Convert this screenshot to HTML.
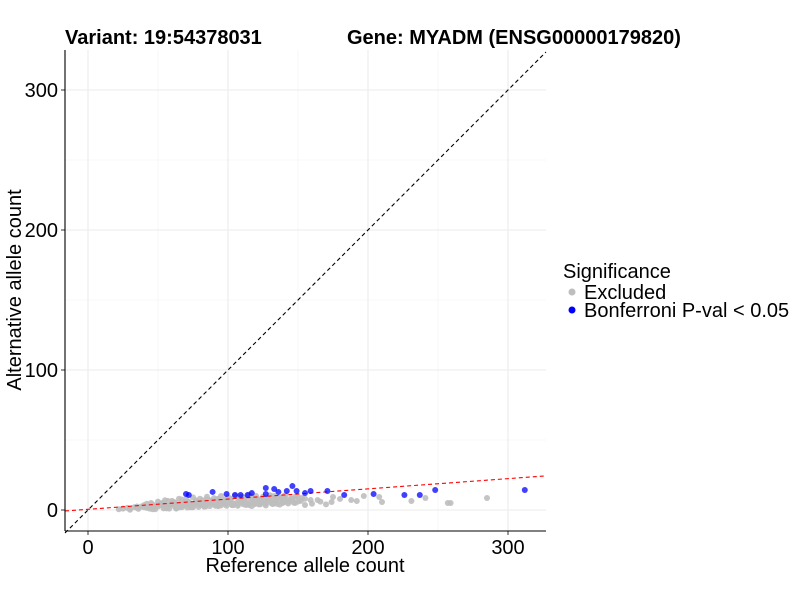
<!DOCTYPE html>
<html><head><meta charset="utf-8"><style>
body{margin:0;background:#fff;}
svg{display:block;font-family:"Liberation Sans",sans-serif;}
</style></head><body>
<svg id="chart" width="800" height="600">
<g id="grid"></g>
<g id="lines"></g>
<g id="pts"></g>
<g id="axes"></g>
<text x="65" y="44" font-size="20" font-weight="bold">Variant: 19:54378031</text>
<text x="347" y="44" font-size="20" font-weight="bold">Gene: MYADM (ENSG00000179820)</text>
<text x="305" y="572" font-size="20" text-anchor="middle">Reference allele count</text>
<text transform="translate(21,290) rotate(-90)" font-size="20" text-anchor="middle">Alternative allele count</text>
<g>
<text x="563" y="278" font-size="20">Significance</text>
<circle cx="572" cy="292" r="3.5" fill="#bebebe"/>
<text x="584" y="299" font-size="20">Excluded</text>
<circle cx="572" cy="310" r="3.5" fill="#0000ff"/>
<text x="584" y="317" font-size="20">Bonferroni P-val &lt; 0.05</text>
</g>
</svg>
<script>
const xTicks=[0,100,200,300];
const yTicks=[0,100,200,300];
const minorTicks=[50,150,250];
const regSlope=0.073, regIntercept=0.5;
const blueX=[70,72,89,99,105,109,114,117,127,127,133,136,142,146,149,155,159,171,183,204,226,237,248,312];
const blueY=[11.4,10.7,12.9,11.4,10.7,10.7,10.7,12.1,15.7,11.4,15,12.9,13.6,17.1,13.6,12.1,13.6,13.6,10.7,11.4,10.7,10.7,14.3,14.3];
const greyX=[22,25,28,30,33,35,38,40,42,45,47,50,52,55,57,60,62,64,66,68,70,72,74,76,78,80,82,84,86,88,90,92,94,96,98,100,102,104,106,108,110,112,114,116,118,120,122,124,126,128,130,132,134,136,138,140,142,144,146,148,150,
 30,36,44,48,54,58,63,67,71,75,79,83,87,91,95,99,103,107,111,115,119,123,127,131,135,139,143,147,
 40,46,53,61,69,77,85,93,101,109,117,125,133,141,46,56,65,74,84,93,104,113,122,132,
 153,155,159,164,174,175,180,188,192,197,208,210,231,241,257,259,285,160,166,170,
 45,50,55,60,65,70,75,80,85,90,95,100,105,110,115,120,125,130,135,140,145,150,155,
 48,58,68,78,88,98,108,118,128,138,148,63,73,83,93,103,113,123,133,143,
 52,62,72,82,92,102,112,122,132,142,152,35,42,57,67,77,87,97,107,117,127,137];
const greyY=[0.5,1,1.5,1,2,1.5,2.5,2,1.5,3,2,2.5,3.5,2,3,4,2.5,3,4.5,3,3.5,5,3,4,4.5,3.5,5,4,6,4.5,5,3.5,6,5,4,5.5,6.5,4.5,5,7,5.5,6,4.5,7,6,5,7.5,6,5.5,8,6.5,5,7,6,8.5,5.5,7,6.5,8,5,6,
 0.2,0.8,1,0.5,1.2,1,1.5,2,1.8,2,2.2,2.5,2.8,3,3.2,3,3.5,3.8,4,3.6,4.2,4,4.5,4.8,4.4,5,4.6,5.2,
 3.5,4,5,5.5,6,7,7.5,8,8.5,9,9.5,9,10,10.5,0.5,1.2,1.8,2,2.5,2.8,3.5,3.6,4,4.2,
 8.6,3.6,7.1,7.1,5.7,9.3,7.9,7.1,6.4,10,9.3,5.7,6.4,8.6,5,5,8.6,4.5,6,4,
 5,6,7,6.5,8,7.5,9,8,9.5,8.5,10,9,10.5,9.5,11,10,9.5,10.5,9,10,8.5,9.5,8,
 2.5,3.5,4.5,5.5,6.5,7.5,8.5,8,8.5,9,9.5,1,2,2.5,3,3.5,4,4.5,5,6,
 4.5,5.5,6,7,7.5,8,8.5,7.5,8,7,6.5,2.5,4.5,6.5,7.5,6,7,6,3,2.8,3.2,3.8];
const NS='http://www.w3.org/2000/svg';
const X0=65,X1=546,Y0=50,Y1=531;
const sx=v=>88+1.4*v, sy=v=>510-1.4*v;
function mk(p,t,a){const e=document.createElementNS(NS,t);for(const k in a)e.setAttribute(k,a[k]);document.getElementById(p).appendChild(e);return e;}
minorTicks.forEach(t=>{
 let e=mk('grid','line',{x1:sx(t),x2:sx(t),y1:Y0,y2:Y1,stroke:'#f2f2f2','stroke-width':0.6});
 
 
 e=mk('grid','line',{x1:X0,x2:X1,y1:sy(t),y2:sy(t),stroke:'#f2f2f2','stroke-width':0.6});
 
 
});
xTicks.forEach(t=>{
 let e=mk('grid','line',{x1:sx(t),x2:sx(t),y1:Y0,y2:Y1,stroke:'#ebebeb','stroke-width':1.1});
 
 
 e=mk('axes','line',{x1:sx(t),x2:sx(t),y1:Y1,y2:Y1+4,stroke:'#333'});
 
 
 e=mk('axes','text',{x:sx(t),y:Y1+23,'font-size':20,'text-anchor':'middle',fill:'#000'});e.textContent=t;
 
 
});
yTicks.forEach(t=>{
 let e=mk('grid','line',{x1:X0,x2:X1,y1:sy(t),y2:sy(t),stroke:'#ebebeb','stroke-width':1.1});
 
 
 e=mk('axes','line',{x1:X0-4,x2:X0,y1:sy(t),y2:sy(t),stroke:'#333'});
 
 
 e=mk('axes','text',{x:X0-7,y:sy(t)+7,'font-size':20,'text-anchor':'end',fill:'#000'});e.textContent=t;
 
 
});
const vx0=(X0-88)/1.4, vx1=(X1-88)/1.4;
let d=mk('lines','line',{x1:sx(vx0),y1:sy(vx0),x2:sx(vx1),y2:sy(vx1),stroke:'#000','stroke-dasharray':'4,3','stroke-width':1.1});


greyX.forEach((x,i)=>{
 const c=mk('pts','circle',{cx:sx(x),cy:sy(greyY[i]),r:3,fill:'#bebebe',opacity:0.9});
 
 
});
let r=mk('pts','line',{x1:X0,y1:sy(regIntercept+regSlope*vx0),x2:X1,y2:sy(regIntercept+regSlope*vx1),stroke:'#ff0000','stroke-dasharray':'4,3','stroke-width':1.1});


blueX.forEach((x,i)=>{
 const c=mk('pts','circle',{cx:sx(x),cy:sy(blueY[i]),r:3,fill:'#0000ff',opacity:0.75});
 
 
});
let a=mk('axes','line',{x1:X0,x2:X0,y1:Y0,y2:Y1,stroke:'#000','stroke-width':1.1});


a=mk('axes','line',{x1:X0,x2:X1,y1:Y1,y2:Y1,stroke:'#000','stroke-width':1.1});


</script>
</body></html>
